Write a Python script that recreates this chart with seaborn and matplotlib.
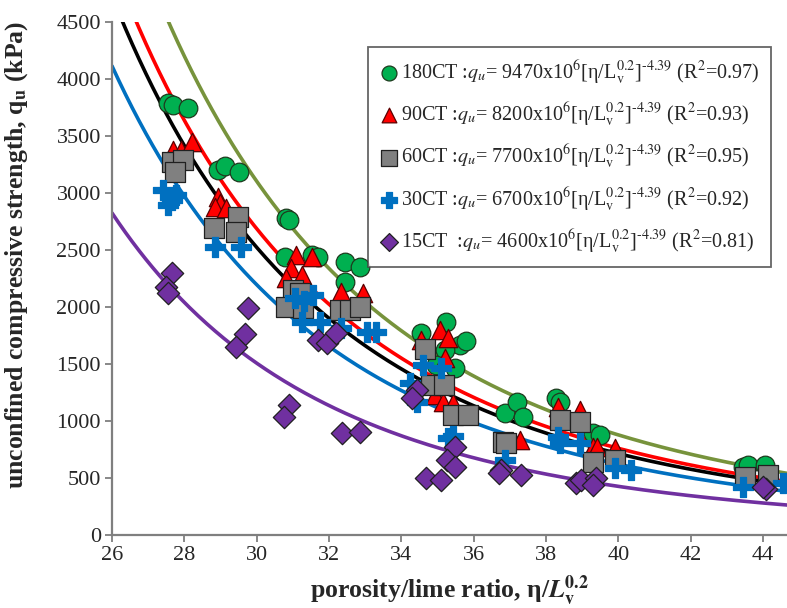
import numpy as np
import pandas as pd
import matplotlib
matplotlib.use("Agg")
import matplotlib.pyplot as plt
import seaborn as sns

sns.set_theme(style="white")
plt.rcParams["font.family"] = ["Liberation Serif", "DejaVu Serif"]
plt.rcParams["mathtext.fontset"] = "stix"

# Curing periods, fitted coefficients (x10^6) and goodness of fit
curing = ["180CT", "90CT", "60CT", "30CT", "15CT"]
coef = [9470, 8200, 7700, 6700, 4600]
r2 = [0.97, 0.93, 0.95, 0.92, 0.81]
exponent = -4.39

# Measured points: porosity/lime ratio and unconfined compressive strength (kPa)
x_180 = [27.55, 27.7, 28.1, 28.92, 29.12, 29.5, 30.81, 30.9, 30.78, 31.52, 31.69,
         32.44, 32.85, 32.44, 34.55, 35.23, 35.61, 35.78, 35.2, 35.48, 34.97,
         36.86, 37.2, 37.36, 38.28, 38.38, 39.3, 39.48, 43.44, 43.58, 44.04]
q_180 = [3790, 3770, 3745, 3200, 3235, 3185, 2780, 2765, 2436, 2456, 2441,
         2398, 2354, 2222, 1769, 1871, 1667, 1705, 1623, 1462, 1491,
         1067, 1169, 1038, 1199, 1169, 892, 880, 599, 614, 614]

x_90 = [27.68, 27.92, 28.2, 28.92, 28.98, 28.85, 29.15, 31.1, 31.52, 30.96, 30.82,
        31.24, 32.34, 32.94, 35.06, 35.29, 35.2, 34.55, 34.92, 35.15, 35.43,
        37.27, 38.33, 38.93, 39.3, 39.41, 39.9, 44.04]
q_90 = [3377, 3377, 3450, 2968, 2915, 2880, 2871, 2456, 2441, 2339, 2252,
        2281, 2134, 2120, 1798, 1725, 1550, 1711, 1228, 1169, 1160,
        833, 1126, 1096, 775, 775, 760, 500]

x_60 = [27.65, 27.97, 27.74, 28.83, 29.49, 29.44, 31.01, 31.19, 30.81, 31.28,
        32.3, 32.57, 32.85, 34.65, 34.83, 35.18, 35.43, 35.84, 36.81, 36.9,
        38.38, 38.93, 39.3, 39.9, 43.49, 44.13]
q_60 = [3275, 3289, 3187, 2690, 2792, 2661, 2149, 2120, 2003, 1988,
        1974, 1974, 2003, 1630, 1316, 1316, 1053, 1053, 818, 810,
        1009, 994, 643, 658, 512, 526]

x_30 = [27.4, 27.77, 27.56, 27.65, 28.85, 29.58, 31.06, 31.56, 31.3, 31.24, 31.75,
        32.34, 33.04, 33.31, 34.6, 35.1, 34.23, 34.42, 35.29, 35.43, 36.86,
        38.33, 38.38, 38.93, 39.9, 40.36, 43.44, 44.54]
q_30 = [3026, 2982, 2895, 2939, 2529, 2529, 2076, 2105, 2050, 1871, 1871,
        1813, 1784, 1784, 1491, 1462, 1330, 1170, 850, 870, 658,
        862, 804, 804, 590, 570, 424, 460]

x_15 = [27.65, 27.49, 27.56, 29.77, 29.67, 29.43, 31.7, 31.93, 32.2, 30.9, 30.75,
        32.37, 32.85, 34.42, 34.28, 35.47, 35.25, 35.47, 34.69, 35.1, 36.76,
        36.7, 37.32, 38.84, 38.97, 39.39, 39.3, 44.08, 44.0]
q_15 = [2301, 2178, 2120, 1988, 1763, 1652, 1711, 1682, 1769, 1140, 1038,
        892, 906, 1272, 1199, 775, 658, 599, 497, 482, 570,
        540, 526, 453, 482, 497, 438, 400, 420]

x_ticks = list(range(26, 45, 2))
y_ticks = list(range(0, 4501, 500))

xs_data = [x_180, x_90, x_60, x_30, x_15]
qs_data = [q_180, q_90, q_60, q_30, q_15]

line_colors = ["#77933C", "#FF0000", "#000000", "#0070C0", "#7030A0"]
face_colors = ["#00B050", "#FF0000", "#808080", "#0070C0", "#7030A0"]
edge_colors = ["#1E3A1E", "#5A0000", "#202020", "#0070C0", "#202020"]
markers = ["o", "^", "s", "P", "D"]
sizes = [180, 175, 190, 190, 130]

fig = plt.figure(figsize=(7.87, 6.08), dpi=100)
ax = fig.add_axes([0.1423, 0.1201, 0.8577, 0.8437])

x_lo, x_hi = 26, 44.66
xfit = np.linspace(x_lo, x_hi, 400)

# Fitted power-law curves q_u = A x 10^6 (eta/Lv^0.2)^-4.39
for a, col in zip(coef, line_colors):
    fit = pd.DataFrame({"x": xfit, "q": a * 1e6 * xfit ** exponent})
    sns.lineplot(data=fit, x="x", y="q", color=col, linewidth=2.6,
                 ax=ax, legend=False, estimator=None, zorder=2)

labels = []
for name, a, r in zip(curing, coef, r2):
    sep = "  :" if name == "15CT" else " :"
    labels.append(f"{name}{sep}$q_u$= {a}x10$^6$[η/L$_\\mathrm{{v}}^{{0.2}}$]"
                  f"$^{{\\text{{-4.39}}}}$ (R$^2$={r:.2f})")

for i in range(5):
    pts = pd.DataFrame({"x": xs_data[i], "q": qs_data[i]})
    sns.scatterplot(data=pts, x="x", y="q", marker=markers[i], s=sizes[i],
                    color=face_colors[i], edgecolor=edge_colors[i],
                    linewidth=0.9, label=labels[i], ax=ax, zorder=3 + i)

ax.set_xlim(x_lo, x_hi)
ax.set_ylim(0, 4500)
ax.set_xticks(x_ticks)
ax.set_yticks(y_ticks)
ax.tick_params(axis="both", labelsize=16, direction="out", length=5,
               width=1.3, color="#7F7F7F", left=True, bottom=True, pad=3)

for side in ("top", "right"):
    ax.spines[side].set_visible(False)
for side in ("left", "bottom"):
    ax.spines[side].set_color("#7F7F7F")
    ax.spines[side].set_linewidth(1.6)

ax.set_ylabel("unconfined compressive strength, q$_\\mathbf{u}$ (kPa)",
              fontsize=18.5, fontweight="bold")
ax.yaxis.set_label_coords(-0.122, 0.545)
ax.set_xlabel("porosity/lime ratio, η/$\\mathbfit{L}_\\mathbf{v}^\\mathbf{0.2}$",
              fontsize=18.5, fontweight="bold", labelpad=6)

leg = ax.legend(loc="upper left", bbox_to_anchor=(0.379, 0.951),
                borderaxespad=0, fontsize=14.5, frameon=True, fancybox=False,
                edgecolor="#404040", handletextpad=0.1, handlelength=1.0,
                labelspacing=0.68, borderpad=0.55, markerscale=0.8)
leg.get_frame().set_linewidth(1.3)

fig.savefig("out.png", dpi=100)
